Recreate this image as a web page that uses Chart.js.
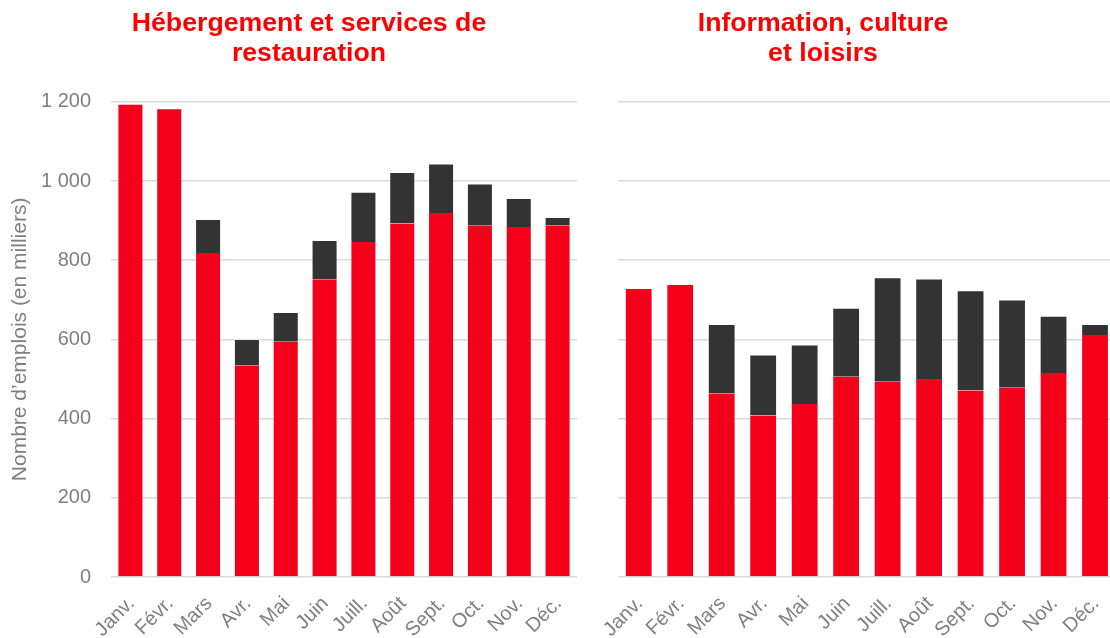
<!DOCTYPE html>
<html><head><meta charset="utf-8">
<script src="https://cdn.jsdelivr.net/npm/chart.js@4.4.1/dist/chart.umd.min.js"></script>
<style>
html,body{margin:0;padding:0;overflow:hidden;background:#fff;width:1110px;height:638px}
#w1{position:absolute;left:0;top:0;width:618px;height:638px}
#w2{position:absolute;left:519px;top:0;width:608px;height:638px}
</style></head><body>
<div id="w1"><canvas id="c1"></canvas></div>
<div id="w2"><canvas id="c2"></canvas></div>
<script>
const months = ['Janv.', 'Févr.', 'Mars', 'Avr.', 'Mai', 'Juin', 'Juill.', 'Août', 'Sept.', 'Oct.', 'Nov.', 'Déc.'];
const hebergementRouge = [1195, 1184, 818, 535, 594, 752, 846, 893, 919, 887, 884, 888];
const hebergementNoir  = [0, 0, 86, 66, 75, 99, 127, 130, 125, 107, 73, 21];
const infoRouge = [730, 740, 464, 408, 437, 506, 493, 500, 471, 478, 515, 611];
const infoNoir  = [0, 0, 175, 154, 150, 174, 264, 254, 253, 223, 145, 28];
const yTickValues = [0, 200, 400, 600, 800, 1000, 1200];
const yTickLabels = ['0', '200', '400', '600', '800', '1 000', '1 200'];
const titleLeft = ['Hébergement et services de', 'restauration'];
const titleRight = ['Information, culture', 'et loisirs'];
const yTitle = 'Nombre d’emplois (en milliers)';

const RED = '#F5001B', DARK = '#333333', GRID = '#D9D9D9', TXT = '#7F7F7F';
const EDGE = 'rgba(255,255,255,0.4)';
const FONT = "'Liberation Sans', Arial, sans-serif";

function makeChart(id, rouge, noir, title, showY, padLeft, axisWidth, padRight, titlePad) {
  return new Chart(document.getElementById(id), {
    type: 'bar',
    data: {
      labels: months,
      datasets: [
        { data: rouge, backgroundColor: RED, borderColor: EDGE,
          borderWidth: rouge.map((v, i) => ({ left: 1, right: 1, top: noir[i] > 0 ? 0 : 1, bottom: 0 })),
          borderSkipped: false, barPercentage: 0.67, categoryPercentage: 1 },
        { data: noir, backgroundColor: DARK, borderColor: EDGE,
          borderWidth: { left: 1, right: 1, top: 1, bottom: 0 },
          borderSkipped: false, barPercentage: 0.67, categoryPercentage: 1 }
      ]
    },
    options: {
      responsive: true, maintainAspectRatio: false, animation: false, devicePixelRatio: 1,
      layout: { padding: { left: padLeft, right: padRight, top: 0, bottom: 0 } },
      plugins: {
        legend: { display: false }, tooltip: { enabled: false },
        title: { display: true, text: title, color: '#FF0000',
          font: { family: FONT, size: 26.7, weight: 'bold', lineHeight: 1.12 },
          padding: { top: 9, bottom: 33 } }
      },
      scales: {
        x: {
          stacked: true,
          grid: { display: false, drawTicks: false },
          border: { display: false },
          ticks: { color: TXT, font: { family: FONT, size: 20 }, minRotation: 45, maxRotation: 45, padding: 15, labelOffset: 1, autoSkip: false },
          afterFit: s => { s.height = 61; }
        },
        y: {
          stacked: true, min: 0, max: 1200,
          afterBuildTicks: s => { s.ticks = yTickValues.map(v => ({ value: v })); },
          grid: { color: GRID, lineWidth: 1.5, drawTicks: false },
          border: { display: false },
          ticks: { display: showY, color: TXT, font: { family: FONT, size: 20 }, padding: 20,
            callback: v => yTickLabels[yTickValues.indexOf(v)] },
          title: { display: showY, text: yTitle, color: TXT, font: { family: FONT, size: 21 }, padding: { top: titlePad, bottom: 0 } },
          afterFit: s => { s.width = axisWidth; }
        }
      }
    }
  });
}
makeChart('c1', hebergementRouge, hebergementNoir, titleLeft, true, 41, 70, 41, -33);
makeChart('c2', infoRouge, infoNoir, titleRight, false, 0, 99, 0, 0);
</script>
</body></html>
